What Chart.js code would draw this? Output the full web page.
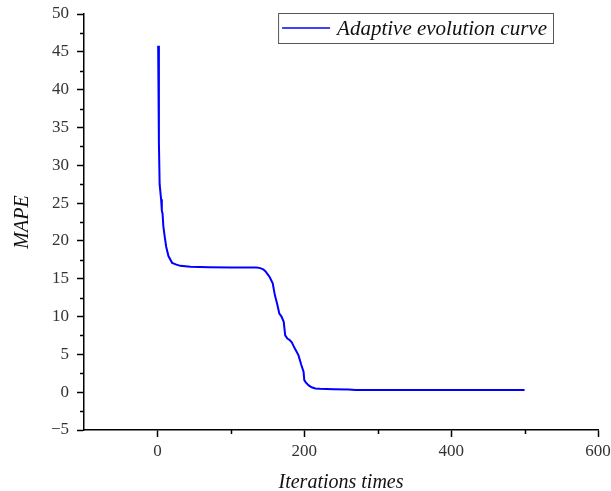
<!DOCTYPE html>
<html>
<head>
<meta charset="utf-8">
<script src="https://cdn.jsdelivr.net/npm/chart.js@4.4.1/dist/chart.umd.min.js"></script>
<style>
  html, body { margin: 0; padding: 0; background: #fff; }
  #wrap { width: 611px; height: 491px; }
</style>
</head>
<body>
<div id="wrap"><canvas id="chart"></canvas></div>
<script>
// values
const iterations = [1, 2, 3, 5, 6, 7, 8, 10, 12, 15, 20, 25, 31, 45, 70, 100, 126, 135, 140, 144, 147, 150, 153, 157, 160, 163, 166, 169, 172, 174, 177, 180, 183, 187, 192, 196, 199, 200, 202, 206, 210, 215, 221, 240, 260, 270, 500];
const mape = [45.8, 33, 27.5, 25.5, 24, 23.6, 22, 20.5, 19.2, 18, 17.1, 16.9, 16.7, 16.57, 16.53, 16.5, 16.5, 16.48, 16.4, 16.25, 16.0, 15.6, 15.2, 14.4, 12.8, 11.7, 10.4, 10.0, 9.3, 7.5, 7.1, 6.9, 6.6, 5.8, 4.9, 3.6, 2.7, 1.6, 1.3, 0.9, 0.65, 0.5, 0.45, 0.4, 0.35, 0.3, 0.3];

const seriesLabel = 'Adaptive evolution curve';
const xTicks = [0, 200, 400, 600];
const xMinorTicks = [100, 300, 500];
const yTicks = [-5, 0, 5, 10, 15, 20, 25, 30, 35, 40, 45, 50];
const yMinorTicks = [-2.5, 2.5, 7.5, 12.5, 17.5, 22.5, 27.5, 32.5, 37.5, 42.5, 47.5];

const serif = "'Liberation Serif', 'Times New Roman', serif";

function fmt(v) {
  return v < 0 ? '\u2212' + Math.abs(v) : String(v);
}

// short outward ticks between the labelled ones
const minorTicks = {
  id: 'minorTicks',
  afterDraw(chart) {
    const ctx = chart.ctx;
    const x = chart.scales.x, y = chart.scales.y;
    ctx.save();
    ctx.strokeStyle = '#000';
    ctx.lineWidth = 1.5;
    ctx.beginPath();
    xMinorTicks.forEach(v => {
      const px = Math.round(x.getPixelForValue(v)) + 0.5;
      ctx.moveTo(px, x.top);
      ctx.lineTo(px, x.top + 4);
    });
    yMinorTicks.forEach(v => {
      const py = Math.round(y.getPixelForValue(v)) + 0.5;
      ctx.moveTo(y.right, py);
      ctx.lineTo(y.right - 4, py);
    });
    ctx.stroke();
    ctx.restore();
  }
};

// boxed legend in the upper right of the plot
const boxLegend = {
  id: 'boxLegend',
  afterDraw(chart) {
    const ctx = chart.ctx;
    const area = chart.chartArea;
    const ds = chart.data.datasets[0];
    ctx.save();
    ctx.font = 'italic 21px ' + serif;
    const tw = ctx.measureText(ds.label).width;
    const h = 30;
    const w = 4 + 48 + 7 + tw + 6;
    const left = area.right - 45 - w;
    const top = area.top - 1;
    ctx.strokeStyle = '#555';
    ctx.lineWidth = 1;
    ctx.strokeRect(left + 0.5, top + 0.5, w, h);
    ctx.strokeStyle = ds.borderColor;
    ctx.lineWidth = 1.5;
    ctx.beginPath();
    ctx.moveTo(left + 4, top + h / 2);
    ctx.lineTo(left + 52, top + h / 2);
    ctx.stroke();
    ctx.fillStyle = '#111';
    ctx.textBaseline = 'middle';
    ctx.fillText(ds.label, left + 59, top + h / 2 + 1);
    ctx.restore();
  }
};

new Chart(document.getElementById('chart'), {
  type: 'line',
  data: {
    datasets: [{
      label: seriesLabel,
      data: iterations.map((x, i) => ({ x: x, y: mape[i] })),
      borderColor: '#0000ff',
      borderWidth: 2,
      pointRadius: 0,
      tension: 0,
      fill: false
    }]
  },
  options: {
    responsive: true,
    maintainAspectRatio: false,
    animation: false,
    layout: { padding: { top: 14, right: 13, left: 0, bottom: 0 } },
    plugins: {
      legend: { display: false },
      tooltip: { enabled: false }
    },
    scales: {
      x: {
        type: 'linear',
        min: -100,
        max: 600,
        afterBuildTicks: s => { s.ticks = xTicks.map(v => ({ value: v })); },
        afterFit: s => { s.height = 61; s.paddingLeft = 0; s.paddingRight = 0; },
        border: { display: true, color: '#000', width: 1.5 },
        grid: { drawOnChartArea: false, drawTicks: true, tickLength: 7, tickColor: '#000', tickWidth: 1.5 },
        ticks: {
          color: '#333',
          padding: 4,
          maxRotation: 0,
          font: { family: serif, size: 17 },
          callback: v => fmt(v)
        },
        title: {
          display: true,
          text: 'Iterations times',
          color: '#111',
          font: { family: serif, size: 20, style: 'italic', lineHeight: 0.8 },
          padding: { top: 0, bottom: 0 }
        }
      },
      y: {
        type: 'linear',
        min: -5,
        max: 50,
        afterBuildTicks: s => { s.ticks = yTicks.map(v => ({ value: v })); },
        afterFit: s => { s.width = 84; s.paddingTop = 0; s.paddingBottom = 0; },
        border: { display: true, color: '#000', width: 1.5 },
        grid: { drawOnChartArea: false, drawTicks: true, tickLength: 7, tickColor: '#000', tickWidth: 1.5 },
        ticks: {
          color: '#333',
          padding: 8,
          font: { family: serif, size: 17 },
          callback: v => fmt(v)
        },
        title: {
          display: true,
          text: 'MAPE',
          color: '#111',
          font: { family: serif, size: 20, style: 'italic' },
          padding: { top: 11, bottom: 0 }
        }
      }
    }
  },
  plugins: [minorTicks, boxLegend]
});
</script>
</body>
</html>
